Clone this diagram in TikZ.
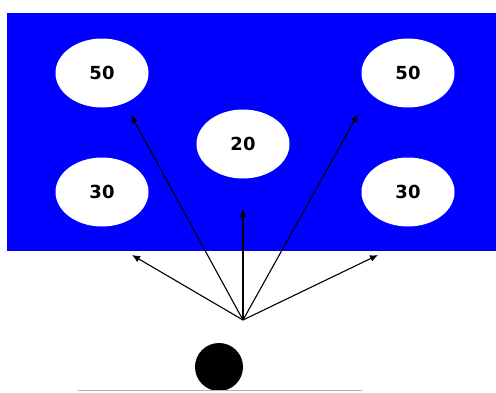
\documentclass[tikz,border=0pt]{standalone}
\usepackage{fontspec}
\setmainfont{DejaVu Sans}
\usetikzlibrary{shapes.geometric, arrows.meta}

\begin{document}
\begin{tikzpicture}[x=1pt, y=-1pt,
    spot/.style={ellipse, fill=white, inner sep=0pt, minimum width=93pt, minimum height=69pt, font=\fontsize{18}{20}\selectfont\bfseries},
    ray/.style={line width=1.1pt, -{Latex[length=8pt, width=7pt]}}]
\useasboundingbox (0,0) rectangle (496,392);
\fill[blue] (7,13) rectangle (496,251);
    \node[spot] (fifty left) at (102,73) {50};
    \node[spot] (fifty right) at (408,73) {50};
    \node[spot] (twenty) at (243,144) {20};
    \node[spot] (thirty left) at (102,192) {30};
    \node[spot] (thirty right) at (408,192) {30};
%the rays all leave one point
    \coordinate (source) at (243,320);
    \coordinate (aim fifty left) at (131,115);
    \coordinate (aim fifty right) at (358,114);
    \coordinate (aim twenty) at (243,209);
    \coordinate (aim edge left) at (132,255);
    \coordinate (aim edge right) at (378,255);
    \foreach \aim in {fifty left, fifty right, twenty, edge left, edge right}
      \draw[ray] (source) -- (aim \aim);
    \node[circle, fill=black, inner sep=0pt, minimum size=48pt] (ball) at (219,367) {};
    \coordinate (floor west) at (78,390.5);
    \coordinate (floor east) at (362,390.5);
    \draw[gray!60, line width=1.6pt] (floor west) -- (floor east);
\end{tikzpicture}
\end{document}
